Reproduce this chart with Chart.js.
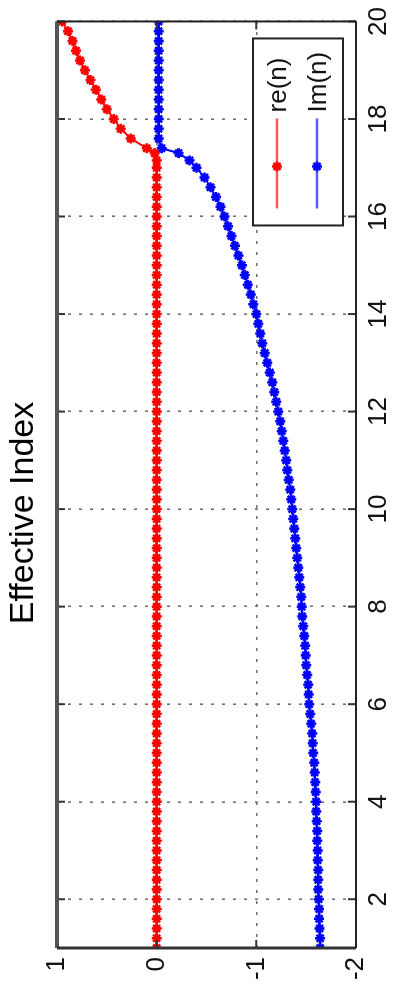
<!DOCTYPE html>
<html>
<head>
<meta charset="utf-8">
<script src="https://cdn.jsdelivr.net/npm/chart.js@4.4.1/dist/chart.umd.min.js"></script>
<style>
  html, body { margin: 0; padding: 0; background: #fff; overflow: hidden; }
  /* the figure is stored on its side: draw it landscape, then turn it */
  #wrap {
    position: absolute; left: 0; top: 0;
    width: 994px; height: 393px;
    transform-origin: 0 0;
    transform: translateY(994px) rotate(-90deg);
  }
</style>
</head>
<body>
<div id="wrap"><canvas id="effChart" width="994" height="393"></canvas></div>
<script>
// sample positions n
const nValues = [
    1.0, 1.2, 1.4, 1.6, 1.8, 2.0, 2.2, 2.4, 2.6, 2.8,
    3.0, 3.2, 3.4, 3.6, 3.8, 4.0, 4.2, 4.4, 4.6, 4.8,
    5.0, 5.2, 5.4, 5.6, 5.8, 6.0, 6.2, 6.4, 6.6, 6.8,
    7.0, 7.2, 7.4, 7.6, 7.8, 8.0, 8.2, 8.4, 8.6, 8.8,
    9.0, 9.2, 9.4, 9.6, 9.8, 10.0, 10.2, 10.4, 10.6, 10.8,
    11.0, 11.2, 11.4, 11.6, 11.8, 12.0, 12.2, 12.4, 12.6, 12.8,
    13.0, 13.2, 13.4, 13.6, 13.8, 14.0, 14.2, 14.4, 14.6, 14.8,
    15.0, 15.2, 15.4, 15.6, 15.8, 16.0, 16.2, 16.4, 16.6, 16.8,
    17.0, 17.15, 17.3, 17.4, 17.6, 17.8, 18.0, 18.2, 18.4, 18.6, 18.8,
    19.0, 19.2, 19.4, 19.6, 19.8, 20.0
];

// re(n)
const reValues = [
    0, 0, 0, 0, 0, 0, 0, 0, 0, 0,
    0, 0, 0, 0, 0, 0, 0, 0, 0, 0,
    0, 0, 0, 0, 0, 0, 0, 0, 0, 0,
    0, 0, 0, 0, 0, 0, 0, 0, 0, 0,
    0, 0, 0, 0, 0, 0, 0, 0, 0, 0,
    0, 0, 0, 0, 0, 0, 0, 0, 0, 0,
    0, 0, 0, 0, 0, 0, 0, 0, 0, 0,
    0, 0, 0, 0, 0, 0, 0, 0, 0, 0,
    0, 0, 0.02, 0.10, 0.26, 0.36, 0.43, 0.50, 0.555, 0.61, 0.665,
    0.72, 0.77, 0.81, 0.845, 0.89, 0.95
];

// Im(n)
const imValues = [
    -1.64, -1.64, -1.635, -1.63, -1.63, -1.625, -1.62, -1.62, -1.62, -1.615,
    -1.615, -1.61, -1.61, -1.605, -1.60, -1.60, -1.595, -1.59, -1.585, -1.58,
    -1.57, -1.565, -1.56, -1.55, -1.54, -1.53, -1.525, -1.52, -1.51, -1.50,
    -1.495, -1.49, -1.48, -1.47, -1.46, -1.455, -1.45, -1.44, -1.43, -1.42,
    -1.41, -1.40, -1.39, -1.38, -1.37, -1.36, -1.35, -1.34, -1.325, -1.31,
    -1.30, -1.285, -1.27, -1.255, -1.24, -1.22, -1.20, -1.18, -1.16, -1.135,
    -1.11, -1.085, -1.06, -1.04, -1.02, -1.00, -0.97, -0.945, -0.915, -0.885,
    -0.855, -0.82, -0.785, -0.75, -0.715, -0.68, -0.64, -0.595, -0.54, -0.48,
    -0.40, -0.33, -0.22, -0.05, -0.02, -0.02, -0.02, -0.02, -0.02, -0.02, -0.02,
    -0.02, -0.02, -0.02, -0.02, -0.02, -0.02
];

const nTicks = [2, 4, 6, 8, 10, 12, 14, 16, 18, 20];
const valueTicks = [-2, -1, 0, 1];

const FONT = '"Liberation Sans", Arial, Helvetica, sans-serif';

function toPoints(ys) {
    return nValues.map(function(n, i) { return { x: n, y: ys[i] }; });
}

function star(ctx, x, y, r) {
    ctx.beginPath();
    ctx.moveTo(x - r, y); ctx.lineTo(x + r, y);
    ctx.moveTo(x, y - r); ctx.lineTo(x, y + r);
    const d = r * 0.7;
    ctx.moveTo(x - d, y - d); ctx.lineTo(x + d, y + d);
    ctx.moveTo(x - d, y + d); ctx.lineTo(x + d, y - d);
    ctx.stroke();
}

// title, frame, inward tick marks and the boxed legend
const matlabLook = {
    id: 'matlabLook',
    afterDraw(chart) {
        const ctx = chart.ctx;
        const a = chart.chartArea;
        const xs = chart.scales.x, ys = chart.scales.y;
        ctx.save();

        // inward tick marks
        ctx.strokeStyle = '#333';
        ctx.lineWidth = 2;
        ctx.beginPath();
        xs.ticks.forEach(function(t) {
            const px = xs.getPixelForValue(t.value);
            ctx.moveTo(px, a.top); ctx.lineTo(px, a.top + 8);
            ctx.moveTo(px, a.bottom); ctx.lineTo(px, a.bottom - 8);
        });
        ys.ticks.forEach(function(t) {
            const py = ys.getPixelForValue(t.value);
            ctx.moveTo(a.left, py); ctx.lineTo(a.left + 8, py);
            ctx.moveTo(a.right, py); ctx.lineTo(a.right - 8, py);
        });
        ctx.stroke();

        // frame
        ctx.strokeStyle = '#555';
        ctx.lineWidth = 4;
        ctx.beginPath(); ctx.moveTo(a.left, a.top); ctx.lineTo(a.right, a.top); ctx.stroke();
        ctx.strokeStyle = '#333';
        ctx.lineWidth = 3;
        ctx.beginPath(); ctx.moveTo(a.left, a.top); ctx.lineTo(a.left, a.bottom); ctx.stroke();
        ctx.lineWidth = 2;
        ctx.strokeStyle = '#222';
        ctx.beginPath();
        ctx.moveTo(a.left, a.bottom); ctx.lineTo(a.right, a.bottom);
        ctx.moveTo(a.right, a.top); ctx.lineTo(a.right, a.bottom);
        ctx.stroke();

        // title
        ctx.fillStyle = '#000';
        ctx.font = '34px ' + FONT;
        ctx.textAlign = 'center';
        ctx.textBaseline = 'alphabetic';
        ctx.fillText('Effective Index', 481, 33);

        // legend box, lower right of the plot
        const w = 187, h = 90;
        const x0 = a.right - 17 - w, y0 = a.bottom - 13 - h;
        ctx.fillStyle = '#fff';
        ctx.fillRect(x0, y0, w, h);
        ctx.strokeStyle = '#222';
        ctx.lineWidth = 2;
        ctx.strokeRect(x0, y0, w, h);
        chart.data.datasets.forEach(function(ds, i) {
            const cy = y0 + 24 + i * 40;
            ctx.strokeStyle = ds.legendLine;
            ctx.lineWidth = 2.5;
            ctx.beginPath(); ctx.moveTo(x0 + 17, cy); ctx.lineTo(x0 + 107, cy); ctx.stroke();
            ctx.strokeStyle = ds.borderColor;
            star(ctx, x0 + 59, cy, 5);
            ctx.fillStyle = '#111';
            ctx.font = '26px ' + FONT;
            ctx.textAlign = 'left';
            ctx.textBaseline = 'middle';
            ctx.fillText(ds.label, x0 + 113, cy + 2);
        });
        ctx.restore();
    }
};

const ctx = document.getElementById('effChart').getContext('2d');

new Chart(ctx, {
    type: 'line',
    data: {
        datasets: [{
            label: 're(n)',
            data: toPoints(reValues),
            borderColor: '#ff0000',
            backgroundColor: '#ff0000',
            legendLine: '#ff5a5a',
            borderWidth: 2,
            pointStyle: 'star',
            pointRadius: 5,
            pointBorderWidth: 2.6,
            tension: 0
        }, {
            label: 'Im(n)',
            data: toPoints(imValues),
            borderColor: '#0000ff',
            backgroundColor: '#0000ff',
            legendLine: '#5a5aff',
            borderWidth: 2,
            pointStyle: 'star',
            pointRadius: 5,
            pointBorderWidth: 2.6,
            tension: 0
        }]
    },
    options: {
        responsive: false,
        animation: false,
        devicePixelRatio: 1,
        layout: {
            padding: { top: 57, right: 16, left: 0, bottom: 0 }
        },
        plugins: {
            legend: { display: false },
            title: { display: false },
            tooltip: { enabled: false }
        },
        scales: {
            x: {
                type: 'linear',
                min: 1,
                max: 20,
                afterBuildTicks: function(scale) {
                    scale.ticks = nTicks.map(function(v) { return { value: v }; });
                },
                afterFit: function(scale) { scale.height = 37; },
                ticks: {
                    color: '#111',
                    padding: 7,
                    maxRotation: 0,
                    font: { family: FONT, size: 26 }
                },
                grid: {
                    color: '#707070',
                    lineWidth: 1.6,
                    drawTicks: false
                },
                border: { display: false, dash: [3, 8] }
            },
            y: {
                type: 'linear',
                min: -2,
                max: 1,
                afterBuildTicks: function(scale) {
                    scale.ticks = valueTicks.map(function(v) { return { value: v }; });
                },
                afterFit: function(scale) { scale.width = 46; },
                ticks: {
                    color: '#111',
                    padding: 9,
                    font: { family: FONT, size: 26 }
                },
                grid: {
                    color: '#707070',
                    lineWidth: 1.6,
                    drawTicks: false
                },
                border: { display: false, dash: [3, 8] }
            }
        }
    },
    plugins: [matlabLook]
});
</script>
</body>
</html>
